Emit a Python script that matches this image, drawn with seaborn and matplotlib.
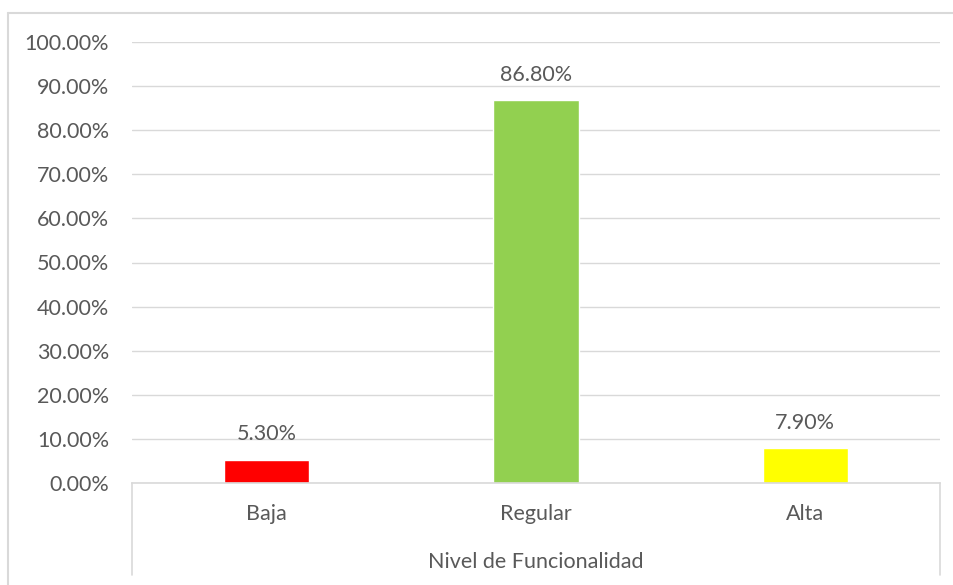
import pandas as pd
import numpy as np
import matplotlib.pyplot as plt
import seaborn as sns
from matplotlib.ticker import PercentFormatter

# data
niveles = ['Baja', 'Regular', 'Alta']
porcentajes = [0.053, 0.868, 0.079]
colores = ['#FF0000', '#92D050', '#FFFF00']
yticks = [0.0, 0.1, 0.2, 0.3, 0.4, 0.5, 0.6, 0.7, 0.8, 0.9, 1.0]

sns.set_style('white')
plt.rcParams['font.family'] = ['Lato', 'DejaVu Sans']
gris = '#595959'
linea = '#D9D9D9'
fs = 15.5

df = pd.DataFrame({'nivel': niveles, 'pct': porcentajes})

fig = plt.figure(figsize=(9.54, 5.85), dpi=100)
ax = fig.add_axes([132 / 954, 1 - 483 / 585, 808 / 954, 441 / 585])

sns.barplot(data=df, x='nivel', y='pct', hue='nivel', palette=colores,
            width=0.316, legend=False, ax=ax, saturation=1)

ax.set_ylim(0, 1.0)
ax.set_xlim(-0.5, 2.5)
ax.set_yticks(yticks)
ax.yaxis.set_major_formatter(PercentFormatter(1.0, decimals=2))
ax.grid(axis='y', color=linea, linewidth=1)
ax.set_axisbelow(True)
for s in ['top', 'right', 'left']:
    ax.spines[s].set_visible(False)
ax.spines['bottom'].set_color(linea)
ax.spines['bottom'].set_linewidth(1.2)
ax.tick_params(axis='y', length=0, labelsize=fs, labelcolor=gris, pad=16.5)
ax.tick_params(axis='x', length=0, labelsize=fs, labelcolor=gris, pad=15)
ax.set_ylabel('')
ax.set_xlabel('Nivel de Funcionalidad', fontsize=fs, color=gris, labelpad=20)

# etiquetas de datos
for i, v in enumerate(porcentajes):
    ax.text(i, v + 0.035, f'{v * 100:.2f}%', ha='center', va='bottom',
            fontsize=fs, color=gris)

# lineas verticales del eje de categorias
for xx in [0, 1]:
    ax.plot([xx, xx], [0, -0.209], transform=ax.transAxes, color=linea,
            linewidth=1.2, clip_on=False)

# borde del grafico
fig.add_artist(plt.Line2D([8 / 954, 8 / 954], [0, 1 - 13 / 585], color=linea, linewidth=1.5))
fig.add_artist(plt.Line2D([8 / 954, 1], [1 - 13 / 585, 1 - 13 / 585], color=linea, linewidth=1.5))

fig.savefig('out.png', dpi=100)
